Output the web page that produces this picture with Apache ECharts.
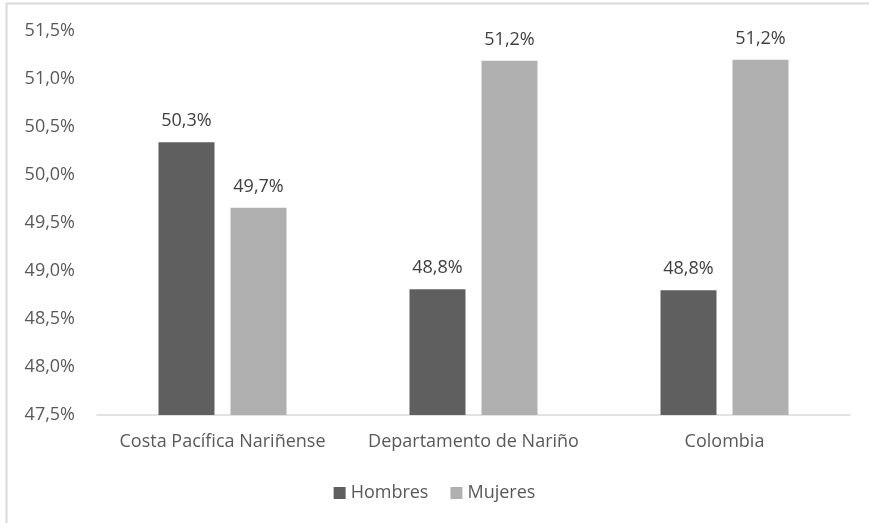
<!DOCTYPE html>
<html>
<head>
<meta charset="utf-8">
<script src="https://cdn.jsdelivr.net/npm/echarts@6/dist/echarts.min.js"></script>
<style>html,body{margin:0;padding:0;background:#fff}#c{width:869px;height:523px}</style>
</head>
<body>
<div id="c"></div>
<script>
const categories = ['Costa Pacífica Nariñense', 'Departamento de Nariño', 'Colombia'];
const hombres = [50.34, 48.81, 48.80];
const mujeres = [49.66, 51.19, 51.20];
const seriesNames = ['Hombres', 'Mujeres'];

const fmt = v => v.toFixed(1).replace('.', ',') + '%';
const FONT = '"Open Sans", "Liberation Sans", sans-serif';
const FS = 18;
const chart = echarts.init(document.getElementById('c'));
chart.setOption({
  animation: false,
  textStyle: { fontFamily: FONT },
  graphic: [{ type: 'rect', shape: { x: 6.5, y: 3.5, width: 900, height: 600 }, style: { fill: 'none', stroke: '#d9d9d9', lineWidth: 2 }, silent: true }],
  grid: { left: 97, right: 19, top: 31, bottom: 108 },
  legend: {
    bottom: 16, left: 'center', itemWidth: 12, itemHeight: 12, itemGap: 22,
    icon: 'rect',
    textStyle: { fontSize: FS, color: '#595959', fontFamily: FONT },
    data: seriesNames
  },
  xAxis: {
    type: 'category', data: categories,
    axisLine: { lineStyle: { color: '#d9d9d9', width: 1.5 } },
    axisTick: { show: false },
    axisLabel: { interval: 0, hideOverlap: false, fontSize: FS, color: '#595959', margin: 18, fontFamily: FONT }
  },
  yAxis: {
    type: 'value', min: 47.5, max: 51.5, interval: 0.5,
    axisLine: { show: false }, axisTick: { show: false },
    splitLine: { show: false },
    axisLabel: { fontSize: FS, color: '#595959', margin: 22, formatter: fmt, fontFamily: FONT }
  },
  series: [
    { name: seriesNames[0], type: 'bar', data: hombres, barWidth: 56, barGap: '28.6%',
      itemStyle: { color: '#5f5f5f' },
      label: { show: true, position: 'top', distance: 12, fontSize: FS, color: '#404040', formatter: p => fmt(p.value), fontFamily: FONT } },
    { name: seriesNames[1], type: 'bar', data: mujeres, barWidth: 56,
      itemStyle: { color: '#b0b0b0' },
      label: { show: true, position: 'top', distance: 12, fontSize: FS, color: '#404040', formatter: p => fmt(p.value), fontFamily: FONT } }
  ]
});
</script>
</body>
</html>
